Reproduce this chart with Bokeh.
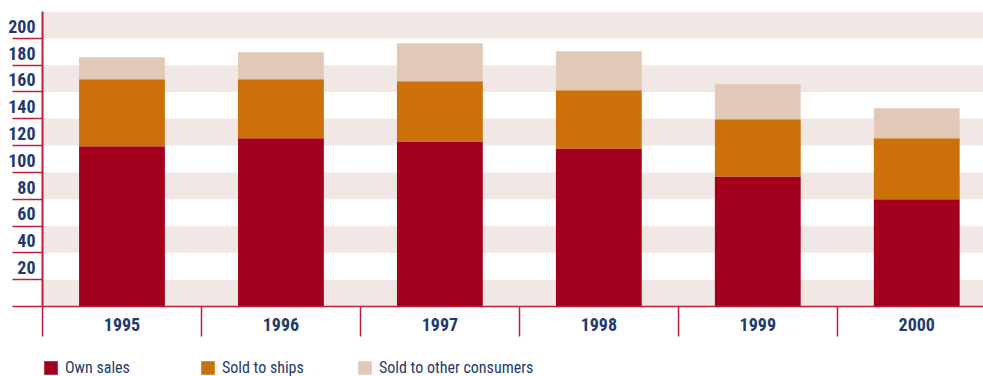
from bokeh.plotting import figure
from bokeh.layouts import column
from bokeh.models import (Range1d, FixedTicker, BoxAnnotation, Legend, LegendItem,
                          ColumnDataSource)
from bokeh.embed import file_html
from bokeh.resources import INLINE

# ---- data ----
years = [1995, 1996, 1997, 1998, 1999, 2000]
own_sales = [119.6, 125.4, 123.1, 117.9, 97.0, 79.9]
sold_to_ships = [49.8, 44.0, 44.8, 43.3, 42.6, 45.5]
sold_to_other = [16.4, 20.2, 28.4, 29.1, 26.1, 22.4]
series_names = ["Own sales", "Sold to ships", "Sold to other consumers"]
y_ticks = [0, 20, 40, 60, 80, 100, 120, 140, 160, 180, 200]

# ---- styles ----
colors = ["#a2001d", "#cc7109", "#e2c8b6"]
band_color = "#f1e8e5"
axis_color = "#bf1e3f"
text_color = "#1f3a6b"
font = "'Roboto Condensed', Roboto, sans-serif"

src = ColumnDataSource(dict(year=years, own=own_sales, ships=sold_to_ships, other=sold_to_other))

p = figure(width=983, height=342, output_backend="svg", toolbar_location=None,
           x_range=Range1d(1994.5, 2000.42), y_range=Range1d(0, 220),
           min_border_left=42, min_border_right=0, min_border_top=11, min_border_bottom=36)
p.outline_line_color = None
p.xgrid.visible = False
p.ygrid.visible = False

# alternating background bands
step = y_ticks[1] - y_ticks[0]
for i, lo in enumerate(list(y_ticks) + [y_ticks[-1] + step]):
    if i % 2 == 0:
        p.add_layout(BoxAnnotation(bottom=lo, top=lo + step, fill_color=band_color,
                                   fill_alpha=1, line_alpha=0, level="underlay"))

p.vbar_stack(["own", "ships", "other"], x="year", width=0.54, source=src,
             color=colors, line_color=None)

# x axis: labels at bar centres, separators as minor ticks
xa = p.xaxis[0]
xa.ticker = FixedTicker(ticks=years, minor_ticks=[y - 0.5 for y in years])
xa.major_label_overrides = {y: str(y) for y in years}
xa.major_tick_out = 0
xa.major_tick_in = 0
xa.minor_tick_out = 30
xa.minor_tick_in = 0
xa.minor_tick_line_color = axis_color
xa.minor_tick_line_width = 1.5
xa.axis_line_color = axis_color
xa.axis_line_width = 1.5
xa.major_label_standoff = -19
xa.major_label_text_font = font
xa.major_label_text_font_size = "18px"
xa.major_label_text_font_style = "bold"
xa.major_label_text_color = text_color

# y axis: tick marks at values (minor ticks), labels sit just above each mark
label_shift = 9
ya = p.yaxis[0]
label_pos = [t + label_shift for t in y_ticks[1:]]
ya.ticker = FixedTicker(ticks=label_pos, minor_ticks=y_ticks)
ya.major_label_overrides = {t + label_shift: str(t) for t in y_ticks[1:]}
ya.major_tick_in = 0
ya.major_tick_out = 0
ya.minor_tick_in = 0
ya.minor_tick_out = 30
ya.minor_tick_line_color = axis_color
ya.minor_tick_line_width = 1.5
ya.axis_line_color = axis_color
ya.axis_line_width = 2
ya.major_label_standoff = -23
ya.major_label_text_font = font
ya.major_label_text_font_size = "18px"
ya.major_label_text_font_style = "bold"
ya.major_label_text_color = text_color

# legend strip underneath (same series, kept out of view so only the keys show)
lp = figure(width=983, height=34, output_backend="svg", toolbar_location=None,
            x_range=Range1d(0, 1), y_range=Range1d(-2, -1),
            x_axis_location=None, y_axis_location=None,
            min_border_left=42, min_border_right=0, min_border_top=16, min_border_bottom=0)
lp.outline_line_color = None
lp.xgrid.visible = False
lp.ygrid.visible = False
lrs = lp.vbar_stack(["own", "ships", "other"], x="year", width=0.54, source=src,
                    color=colors, line_color=None)
legend = Legend(items=[LegendItem(label=n, renderers=[r]) for n, r in zip(series_names, lrs)],
                orientation="horizontal", location="top_left",
                glyph_width=17, glyph_height=17, label_standoff=6, label_width=134,
                label_height=17, spacing=0, padding=0, margin=0,
                background_fill_alpha=0, border_line_alpha=0,
                label_text_font=font, label_text_font_size="16px",
                label_text_color=text_color)
lp.add_layout(legend, "center")

layout = column(p, lp, spacing=0)
open("out.html", "w").write(file_html(layout, INLINE))
